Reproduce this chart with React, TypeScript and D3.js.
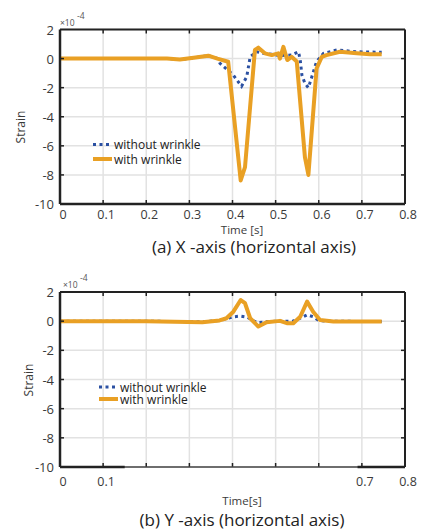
import React from 'react';
import * as d3 from 'd3';

// x-axis (a): time [s] and strain [x1e-4]
const xWithT = [0, 0.248, 0.278, 0.31, 0.344, 0.365, 0.39, 0.419, 0.429, 0.452, 0.46, 0.475, 0.491, 0.506, 0.51, 0.518, 0.527, 0.537, 0.549, 0.568, 0.576, 0.595, 0.607, 0.618, 0.649, 0.688, 0.719, 0.746];
const xWithV = [0, 0, -0.07, 0.05, 0.2, 0, -0.22, -8.38, -7.46, 0.59, 0.75, 0.36, 0.24, 0.36, 0.0, 0.81, -0.1, 0.12, -0.2, -6.8, -8.0, -0.68, 0.12, 0.24, 0.47, 0.36, 0.29, 0.29];
const xWithoutT = [0, 0.248, 0.278, 0.31, 0.344, 0.365, 0.371, 0.402, 0.421, 0.433, 0.441, 0.456, 0.471, 0.491, 0.51, 0.537, 0.553, 0.557, 0.561, 0.568, 0.576, 0.584, 0.595, 0.611, 0.642, 0.688, 0.746];
const xWithoutV = [0, 0, -0.07, 0.05, 0.2, 0, -0.33, -1.14, -1.9, -1.25, 0.12, 0.47, 0.36, 0.3, 0.2, 0.25, 0.47, -0.1, -1.14, -1.71, -2.0, -1.25, -0.2, 0.36, 0.59, 0.47, 0.43];

// y-axis (b)
const yWithT = [0, 0.2, 0.33, 0.37, 0.386, 0.402, 0.419, 0.429, 0.441, 0.46, 0.479, 0.51, 0.526, 0.541, 0.557, 0.573, 0.587, 0.603, 0.634, 0.746];
const yWithV = [0, 0, -0.07, 0.05, 0.2, 0.65, 1.45, 1.23, 0.2, -0.37, -0.07, 0.02, -0.14, -0.14, 0.3, 1.34, 0.65, 0.08, -0.03, -0.03];
const yWithoutT = [0, 0.2, 0.33, 0.37, 0.39, 0.402, 0.419, 0.435, 0.45, 0.46, 0.48, 0.51, 0.54, 0.557, 0.573, 0.587, 0.6, 0.62, 0.746];
const yWithoutV = [0, 0, -0.05, 0.05, 0.2, 0.3, 0.35, 0.27, 0.0, -0.1, -0.03, 0.0, 0.0, 0.2, 0.43, 0.3, 0.05, 0, -0.03];

const yTicks = [-10, -8, -6, -4, -2, 0, 2];
const xTicks = [0, 0.1, 0.2, 0.3, 0.4, 0.5, 0.6, 0.7, 0.8];
const xTickLabelsA = [0, 0.1, 0.2, 0.3, 0.4, 0.5, 0.6, 0.7, 0.8];
const xTickLabelsB = [0, 0.1, 0.7, 0.8];
const legendNames = ['without wrinkle', 'with wrinkle'];

const ORANGE = '#E9A024';
const BLUE = '#2B50A2';
const FONT = '"Open Sans", "Noto Sans", sans-serif';

type PanelProps = {
  top: number;
  bottom: number;
  withT: number[];
  withV: number[];
  withoutT: number[];
  withoutV: number[];
  tickLabels: number[];
  xLabel: string;
  xLabelY: number;
  title: string;
  titleX: number;
  titleY: number;
  tickLabelY: number;
  legendX: number;
  legendY: number;
  legendGap: number;
  strainX: number;
  strainY: number;
  expX: number;
  thinAxis?: [number, number];
};

function Panel(p: PanelProps) {
  const left = 60;
  const right = 405;
  const x = d3.scaleLinear().domain([0, 0.8]).range([left, right]);
  const y = d3.scaleLinear().domain([-10, 2]).range([p.bottom, p.top]);

  const line = (ts: number[], vs: number[]) =>
    d3.line<number>()
      .x((_, i) => x(ts[i]))
      .y((_, i) => y(vs[i]))(ts) || '';

  const grid = '#e2e2e2';
  const ink = '#222';

  return (
    <g>
      {/* grid */}
      {xTicks.map(t => (
        <line key={'gx' + t} x1={x(t)} x2={x(t)} y1={p.top} y2={p.bottom} stroke={grid} strokeWidth={1.5} />
      ))}
      {yTicks.map(v => (
        <line key={'gy' + v} x1={left} x2={right} y1={y(v)} y2={y(v)} stroke={grid} strokeWidth={1.5} />
      ))}

      {/* series */}
      <path d={line(p.withoutT, p.withoutV)} fill="none" stroke={BLUE} strokeWidth={3} strokeDasharray="3,3.5" />
      <path d={line(p.withT, p.withV)} fill="none" stroke={ORANGE} strokeWidth={4} strokeLinejoin="round" />

      {/* inner ticks */}
      {xTicks.slice(1, -1).map(t => (
        <g key={'tx' + t}>
          <line x1={x(t)} x2={x(t)} y1={p.bottom} y2={p.bottom - 4} stroke={ink} strokeWidth={1.5} />
          <line x1={x(t)} x2={x(t)} y1={p.top} y2={p.top + 4} stroke={ink} strokeWidth={1.5} />
        </g>
      ))}
      {yTicks.slice(1, -1).map(v => (
        <g key={'ty' + v}>
          <line x1={left} x2={left + 4} y1={y(v)} y2={y(v)} stroke={ink} strokeWidth={1.5} />
          <line x1={right} x2={right - 4} y1={y(v)} y2={y(v)} stroke={ink} strokeWidth={1.5} />
        </g>
      ))}

      {/* box */}
      <line x1={left} x2={right} y1={p.top} y2={p.top} stroke={ink} strokeWidth={2} />
      <line x1={right} x2={right} y1={p.top} y2={p.bottom} stroke={ink} strokeWidth={2} />
      <line x1={left} x2={left} y1={p.top} y2={p.bottom} stroke={ink} strokeWidth={2.5} />
      {p.thinAxis ? (
        <g>
          <line x1={left} x2={right} y1={p.bottom} y2={p.bottom} stroke="#444" strokeWidth={1.3} />
          <line x1={left} x2={x(p.thinAxis[0])} y1={p.bottom} y2={p.bottom} stroke={ink} strokeWidth={2.5} />
          <line x1={x(p.thinAxis[1])} x2={right} y1={p.bottom} y2={p.bottom} stroke={ink} strokeWidth={2.5} />
        </g>
      ) : (
        <line x1={left} x2={right} y1={p.bottom} y2={p.bottom} stroke={ink} strokeWidth={2.5} />
      )}

      {/* y tick labels */}
      {yTicks.map(v => (
        <text key={'ly' + v} x={left - 6} y={y(v)} textAnchor="end" dominantBaseline="central"
          fontSize={13} fill="#3a3a3a">{v}</text>
      ))}
      {/* x tick labels */}
      {p.tickLabels.map(t => (
        <text key={'lx' + t} x={x(t) + 3} y={p.tickLabelY} textAnchor="middle" dominantBaseline="central"
          fontSize={12.5} fill="#3a3a3a">{t}</text>
      ))}

      {/* exponent */}
      <text x={p.expX} y={p.top - 4} fontSize={8.5} fill="#555">×10</text>
      <text x={p.expX + 17} y={p.top - 11} fontSize={8.5} fill="#555">-4</text>

      {/* axis labels */}
      <text transform={`translate(${p.strainX},${p.strainY}) rotate(-90)`} textAnchor="middle"
        dominantBaseline="central" fontSize={12} fill="#3a3a3a">Strain</text>
      <text x={242} y={p.xLabelY} textAnchor="middle" dominantBaseline="central" fontSize={11.5} fill="#3a3a3a">{p.xLabel}</text>
      <text x={p.titleX} y={p.titleY} textAnchor="middle" dominantBaseline="central" fontSize={17} fill="#222">{p.title}</text>

      {/* legend */}
      <line x1={p.legendX} x2={p.legendX + 19} y1={p.legendY} y2={p.legendY} stroke={BLUE} strokeWidth={3} strokeDasharray="3,3.5" />
      <line x1={p.legendX} x2={p.legendX + 19} y1={p.legendY + p.legendGap} y2={p.legendY + p.legendGap} stroke={ORANGE} strokeWidth={4} />
      <text x={p.legendX + 21} y={p.legendY} dominantBaseline="central" fontSize={12} fill="#222">{legendNames[0]}</text>
      <text x={p.legendX + 21} y={p.legendY + p.legendGap} dominantBaseline="central" fontSize={12} fill="#222">{legendNames[1]}</text>
    </g>
  );
}

export default function App() {
  return (
    <svg width={422} height={530} viewBox="0 0 422 530"
      style={{ position: 'absolute', left: 0, top: 0, fontFamily: FONT, background: '#fff' }}>
      <Panel top={29.5} bottom={204} withT={xWithT} withV={xWithV} withoutT={xWithoutT} withoutV={xWithoutV}
        tickLabels={xTickLabelsA} xLabel="Time [s]" xLabelY={229} title="(a) X -axis (horizontal axis)"
        titleX={254} titleY={246} tickLabelY={214} legendX={93} legendY={144.5} legendGap={14.5}
        strainX={20} strainY={127} expX={60} />
      <Panel top={292} bottom={467} withT={yWithT} withV={yWithV} withoutT={yWithoutT} withoutV={yWithoutV}
        tickLabels={xTickLabelsB} xLabel="Time[s]" xLabelY={500} title="(b) Y -axis (horizontal axis)"
        titleX={242} titleY={519.5} tickLabelY={481} legendX={99} legendY={387} legendGap={12}
        strainX={28} strainY={380} expX={63} thinAxis={[0.15, 0.69]} />
    </svg>
  );
}
